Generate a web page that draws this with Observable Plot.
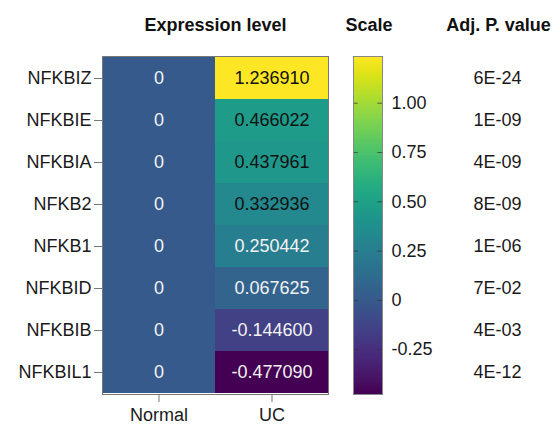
<!DOCTYPE html>
<html>
<head>
<meta charset="utf-8">
<script src="https://cdn.jsdelivr.net/npm/d3@7"></script>
<script src="https://cdn.jsdelivr.net/npm/@observablehq/plot@0.6"></script>
<style>
  html, body { margin: 0; padding: 0; background: #fff; }
  #chart { position: relative; width: 560px; height: 426px; font-family: "Liberation Sans", Arial, sans-serif; }
  #chart svg { position: absolute; left: 0; top: 0; background: transparent; }
</style>
</head>
<body>
<div id="chart"></div>
<script>
// NF-κB family genes, top to bottom
const genes = ["NFKBIZ", "NFKBIE", "NFKBIA", "NFKB2", "NFKB1", "NFKBID", "NFKBIB", "NFKBIL1"];
const groups = ["Normal", "UC"];
// relative expression (Normal is the reference)
const normalValues = [0, 0, 0, 0, 0, 0, 0, 0];
const ucValues = [1.236910, 0.466022, 0.437961, 0.332936, 0.250442, 0.067625, -0.144600, -0.477090];
const adjPValues = ["6E-24", "1E-09", "4E-09", "8E-09", "1E-06", "7E-02", "4E-03", "4E-12"];
const scaleTicks = [-0.25, 0, 0.25, 0.5, 0.75, 1.0];

const cells = genes.flatMap((gene, i) => [
  {gene, group: groups[0], value: normalValues[i]},
  {gene, group: groups[1], value: ucValues[i]}
]);
const pRows = genes.map((gene, i) => ({gene, p: adjPValues[i]}));

const colorDomain = d3.extent(cells, d => d.value);
const color = {type: "linear", scheme: "viridis", domain: colorDomain};
const fmtCell = v => v === 0 ? "0" : v.toFixed(6);
const W = 560, H = 426, TOP = 56, BOTTOM = 32;
const font = "Liberation Sans, Arial, sans-serif";

const heat = Plot.plot({
  width: W, height: H,
  marginLeft: 102, marginRight: 232, marginTop: TOP, marginBottom: BOTTOM,
  style: {fontFamily: font, fontSize: "18px", background: "transparent", color: "#1a1a1a"},
  x: {domain: groups, padding: 0, label: null},
  y: {domain: genes, padding: 0, label: null},
  color,
  marks: [
    Plot.cell(cells, {x: "group", y: "gene", fill: "value"}),
    Plot.text(cells, {
      x: "group", y: "gene", text: d => fmtCell(d.value),
      fill: d => d.value > 0.3 ? "#111" : "#f2f2f2", fontSize: 18
    }),
    Plot.frame({stroke: "#777"}),
    Plot.axisX({tickSize: 8, tickPadding: 6, stroke: "#777", fill: "#1a1a1a", fontSize: 18, label: null}),
    Plot.axisY({tickSize: 8, tickPadding: 3, stroke: "#777", fill: "#1a1a1a", fontSize: 18, label: null}),
    Plot.text(pRows, {y: "gene", text: "p", frameAnchor: "right", dx: 145, textAnchor: "start", fill: "#1a1a1a", fontSize: 18}),
    Plot.text(["Expression level"], {frameAnchor: "top", dy: -38, fontWeight: "bold", fontSize: 18, fill: "#111"}),
    Plot.text(["Adj. P. value"], {frameAnchor: "top-right", dx: 170, dy: -38, textAnchor: "middle", fontWeight: "bold", fontSize: 18, fill: "#111"})
  ]
});

const bar = Plot.plot({
  width: W, height: H,
  marginLeft: 353, marginRight: 178, marginTop: TOP, marginBottom: BOTTOM,
  style: {fontFamily: font, fontSize: "18px", background: "transparent", color: "#1a1a1a"},
  x: {domain: [0, 1], axis: null},
  y: {domain: colorDomain, axis: null},
  color,
  marks: [
    Plot.raster({fill: (x, y) => y, x1: 0, x2: 1, y1: colorDomain[0], y2: colorDomain[1], pixelSize: 1}),
    Plot.ruleY(scaleTicks, {x1: 0, x2: 0.16, stroke: "#333", strokeOpacity: 0.7}),
    Plot.ruleY(scaleTicks, {x1: 0.84, x2: 1, stroke: "#333", strokeOpacity: 0.7}),
    Plot.frame({stroke: "#888"}),
    Plot.axisY({
      anchor: "right", ticks: scaleTicks, tickSize: 0, tickPadding: 9,
      tickFormat: v => v === 0 ? "0" : v.toFixed(2), fill: "#1a1a1a", fontSize: 18, label: null
    }),
    Plot.text(["Scale"], {frameAnchor: "top", dx: 1, dy: -38, fontWeight: "bold", fontSize: 18, fill: "#111"})
  ]
});

const root = document.getElementById("chart");
root.append(heat, bar);
</script>
</body>
</html>
